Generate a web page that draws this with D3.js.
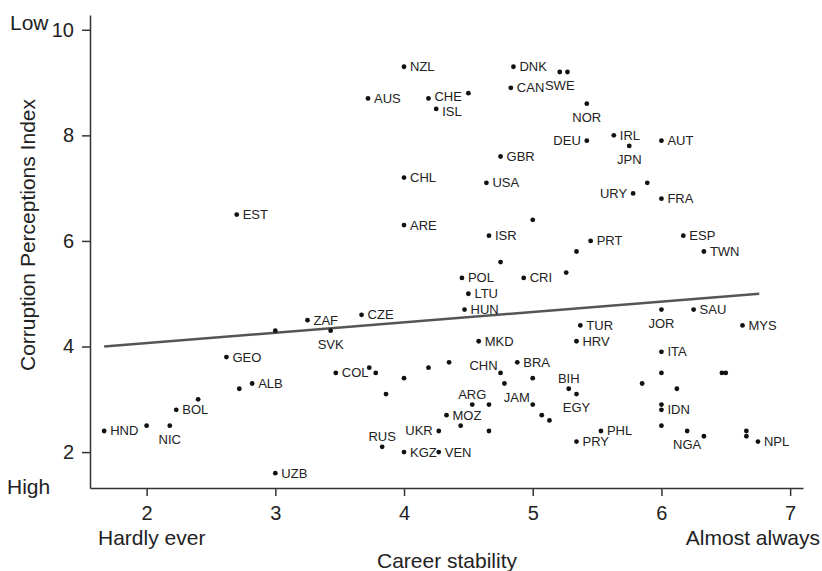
<!DOCTYPE html>
<head>
<meta charset="utf-8">
<script src="https://cdn.jsdelivr.net/npm/d3@7"></script>
<style>
  body { margin: 0; background: #fff; }
  svg text { font-family: "Liberation Sans", Arial, Helvetica, sans-serif; fill: #222; }
</style>
</head>
<body>
<svg id="chart" width="822" height="571"></svg>
<script>
// country codes ("" = unlabeled point)
var codes = [
  "NZL","DNK","SWE","","CAN","AUS","CHE","","ISL","NOR",
  "DEU","IRL","JPN","AUT","","URY","FRA","GBR","CHL","USA",
  "EST","ARE","","ISR","","PRT","","","ESP","TWN",
  "POL","CRI","LTU","HUN","CZE","ZAF","","SVK","GEO","MKD",
  "SAU","JOR","TUR","MYS","HRV","ITA","","","","BRA",
  "CHN","","","COL","","","","","","",
  "ARG","","JAM","","","MOZ","","","UKR","RUS",
  "KGZ","VEN","BIH","EGY","","","IDN","","","NGA",
  "","","","NPL","PHL","PRY","ALB","","","BOL",
  "HND","","NIC","UZB"
]
// career stability (x)
var stability = [
  4.00,4.85,5.21,5.27,4.83,3.72,4.19,4.50,4.25,5.42,
  5.42,5.63,5.75,6.00,5.89,5.78,6.00,4.75,4.00,4.64,
  2.70,4.00,5.00,4.66,4.75,5.45,5.34,5.26,6.17,6.33,
  4.45,4.93,4.50,4.47,3.67,3.25,3.00,3.43,2.62,4.58,
  6.25,6.00,5.37,6.63,5.34,6.00,6.00,6.47,6.50,4.88,
  4.75,4.35,4.19,3.47,3.73,3.78,4.00,3.86,4.78,5.00,
  4.53,4.66,5.00,5.07,5.13,4.33,4.44,4.66,4.27,3.83,
  4.00,4.27,5.28,5.34,5.85,6.12,6.00,6.00,6.00,6.20,
  6.33,6.66,6.66,6.75,5.53,5.34,2.82,2.72,2.40,2.23,
  1.67,2.00,2.18,3.00
]
// corruption perceptions index (y)
var cpi = [
  9.3,9.3,9.2,9.2,8.9,8.7,8.7,8.8,8.5,8.6,
  7.9,8.0,7.8,7.9,7.1,6.9,6.8,7.6,7.2,7.1,
  6.5,6.3,6.4,6.1,5.6,6.0,5.8,5.4,6.1,5.8,
  5.3,5.3,5.0,4.7,4.6,4.5,4.3,4.3,3.8,4.1,
  4.7,4.7,4.4,4.4,4.1,3.9,3.5,3.5,3.5,3.7,
  3.5,3.7,3.6,3.5,3.6,3.5,3.4,3.1,3.3,3.4,
  2.9,2.9,2.9,2.7,2.6,2.7,2.5,2.4,2.4,2.1,
  2.0,2.0,3.2,3.1,3.3,3.2,2.8,2.9,2.5,2.4,
  2.3,2.4,2.3,2.2,2.4,2.2,3.3,3.2,3.0,2.8,
  2.4,2.5,2.5,1.6
]
var trendX = [1.67, 6.76]
var trendY = [4.0, 5.0]
var xTicks = [2, 3, 4, 5, 6, 7]
var yTicks = [2, 4, 6, 8, 10]

// where each label sits relative to its dot (default: right)
var place = {
  SWE: "below", NOR: "below", JPN: "below", SVK: "below", JOR: "below",
  NIC: "below", NGA: "below", EGY: "below",
  DEU: "left", URY: "left", UKR: "left",
  BIH: "above", ARG: "above", RUS: "above",
  JAM: "aboveLeft", CHN: "aboveLeft"
}
// small vertical nudges for crowded labels
var nudge = { CHE: -1.5, ISL: 2.5 }

var svg = d3.select("#chart")

var x = d3.scaleLinear().domain([1.56, 7.1]).range([90, 803])
var y = d3.scaleLinear().domain([1.32, 10.28]).range([488, 15])

svg.append("g")
  .attr("transform", "translate(0,488)")
  .call(d3.axisBottom(x).tickValues(xTicks).tickFormat(d3.format("d"))
    .tickSize(8).tickSizeOuter(0).tickPadding(10))
svg.append("g")
  .attr("transform", "translate(90,0)")
  .call(d3.axisLeft(y).tickValues(yTicks).tickFormat(d3.format("d"))
    .tickSize(8).tickSizeOuter(0).tickPadding(8))

svg.selectAll(".domain, .tick line").attr("stroke", "#333").attr("stroke-width", 1.5)
svg.selectAll(".tick text").style("font-size", "20px").attr("fill", "#222")

// trend line
svg.append("line")
  .attr("x1", x(trendX[0])).attr("y1", y(trendY[0]))
  .attr("x2", x(trendX[1])).attr("y2", y(trendY[1]))
  .attr("stroke", "#555").attr("stroke-width", 2.5)

var pts = codes.map(function (c, i) { return {code: c, sx: stability[i], cp: cpi[i]} })

svg.append("g").selectAll("circle").data(pts).enter().append("circle")
  .attr("cx", function (d) { return x(d.sx) })
  .attr("cy", function (d) { return y(d.cp) })
  .attr("r", 2.4)
  .attr("fill", "#111")

svg.append("g").selectAll("text").data(pts.filter(function (d) { return d.code })).enter().append("text")
  .attr("x", function (d) { return x(d.sx) })
  .attr("y", function (d) { return y(d.cp) + (nudge[d.code] || 0) })
  .style("font-size", "13px")
  .each(function (d) {
    var t = d3.select(this), p = place[d.code] || "right"
    if (p == "right") t.attr("dx", 6).attr("dy", 4.5)
    else if (p == "left") t.attr("dx", -6).attr("dy", 4.5).attr("text-anchor", "end")
    else if (p == "below") t.attr("dy", 18).attr("text-anchor", "middle")
    else if (p == "above") t.attr("dy", -6).attr("text-anchor", "middle")
    else if (p == "aboveLeft") t.attr("dx", -3).attr("dy", -3).attr("text-anchor", "end")
  })
  .text(function (d) { return d.code })

// axis titles and end notes
svg.append("text").attr("x", 10).attr("y", 30).style("font-size", "21px").text("Low")
svg.append("text").attr("x", 7).attr("y", 494).style("font-size", "21px").text("High")
svg.append("text").attr("x", 98).attr("y", 545).style("font-size", "21px").text("Hardly ever")
svg.append("text").attr("x", 820).attr("y", 545).attr("text-anchor", "end").style("font-size", "21px").text("Almost always")
svg.append("text").attr("x", 447).attr("y", 568).attr("text-anchor", "middle").style("font-size", "21px").text("Career stability")
svg.append("text")
  .attr("transform", "translate(35,235) rotate(-90)")
  .attr("text-anchor", "middle")
  .style("font-size", "21px")
  .text("Corruption Perceptions Index")
</script>
</body>
